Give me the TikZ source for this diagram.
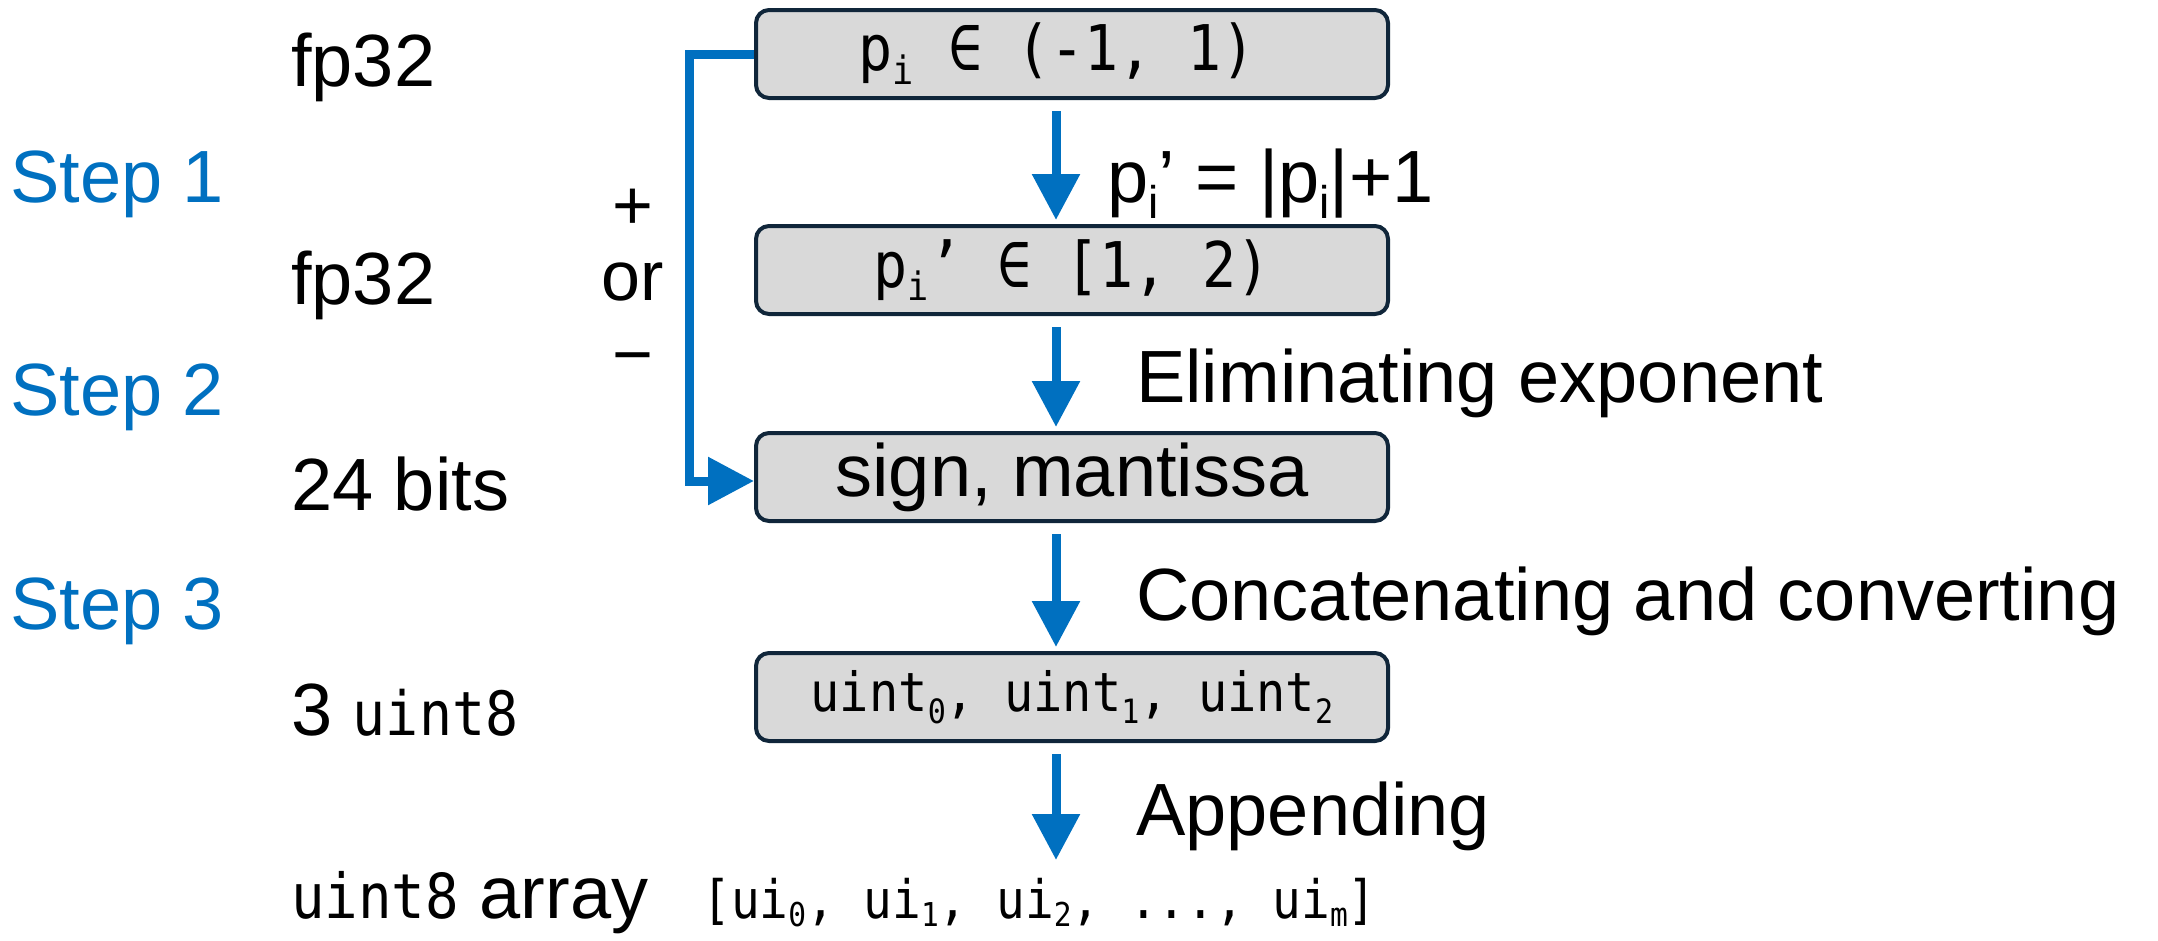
\documentclass[tikz,border=0pt]{standalone}
\usepackage{graphicx}
\usepackage{fontspec}
\setmainfont{Liberation Sans}
\newfontfamily\codefont[FakeStretch=0.9]{DejaVu Sans Mono}
\usetikzlibrary{arrows.meta}
\definecolor{stepblue}{HTML}{0070C0}
\definecolor{boxline}{HTML}{10263A}
\definecolor{boxfill}{HTML}{D9D9D9}
% lowered, smaller index for subscripts in text
\newcommand\lowidx[1]{\raisebox{-0.22em}{\scalebox{0.62}{#1}}}
\newcommand\lowidxs[1]{\raisebox{-0.16em}{\scalebox{0.62}{#1}}}

\begin{document}
\begin{tikzpicture}[x=1pt,y=-1pt,
  stage/.style={draw=boxline, line width=4pt, fill=boxfill, rounded corners=13pt,
    minimum width=632pt, minimum height=88pt, inner sep=0pt},
  flow/.style={draw=stepblue, line width=9pt, -{Triangle[length=46pt,width=46pt]}},
  down/.style={flow, shorten <=11pt, shorten >=4pt},
  lbl/.style={anchor=base west, inner sep=0pt, font=\fontsize{74}{80}\selectfont},
  steplbl/.style={lbl, text=stepblue},
  sgn/.style={anchor=base, inner sep=0pt, font=\fontsize{70}{76}\selectfont},
  codebig/.style={font=\codefont\fontsize{63}{68}\selectfont},
  codesmall/.style={font=\codefont\fontsize{54}{58}\selectfont},
]
\useasboundingbox (0,0) rectangle (2158,940);

% pipeline stages
\node[stage, codebig] (b1) at (1072,54) {\hspace*{-30pt}p\lowidx{i} ∈ (-1, 1)};
\node[stage, codebig] (b2) at (1072,270) {p\lowidx{i}’ ∈ [1, 2)};
\node[stage, font=\fontsize{74}{80}\selectfont] (b3) at (1072,477) {sign, mantissa};
\node[stage, codesmall] (b4) at (1072,697) {uint\lowidx{0}, uint\lowidx{1}, uint\lowidx{2}};

% step names
\node[steplbl] (s1) at (10,202) {Step 1};
\node[steplbl] (s2) at (10,415) {Step 2};
\node[steplbl] (s3) at (10,629) {Step 3};

% data types of each stage
\node[lbl] (t1) at (291,86) {fp32};
\node[lbl] (t2) at (291,304) {fp32};
\node[lbl] (t3) at (291,510) {24 bits};
\node[lbl] (t4) at (291,735) {3 {\codefont\fontsize{61}{66}\selectfont uint8}};
\node[lbl] (t5) at (291,918) {{\codefont\fontsize{62}{66}\selectfont uint8} array\hspace{54pt}{\codefont\fontsize{53}{58}\selectfont [ui\lowidxs{0}, ui\lowidxs{1}, ui\lowidxs{2}, ..., ui\lowidxs{m}]}};

% operations between stages
\node[lbl] (o1) at (1107,202) {p\lowidx{i}’ = |p\lowidx{i}|+1};
\node[lbl] (o2) at (1136,402) {Eliminating exponent};
\node[lbl] (o3) at (1136,620) {Concatenating and converting};
\node[lbl] (o4) at (1136,835) {Appending};

% sign bypass
\node[sgn] (plus) at (633,229) {+};
\node[sgn] (or) at (633,300) {or};
\node[sgn] (minus) at (633,378) {−};

% connectors
\coordinate (out) at (1056,860);
\draw[down] ([xshift=-16pt]b1.south) -- ([xshift=-16pt]b2.north);
\draw[down] ([xshift=-16pt]b2.south) -- ([xshift=-16pt]b3.north);
\draw[down] ([xshift=-16pt]b3.south) -- ([xshift=-16pt]b4.north);
\draw[flow, shorten <=11pt] ([xshift=-16pt]b4.south) -- (out);
\draw[flow] (b1.west) -- ++(-65,0) |- ([yshift=-4pt]b3.west);
\end{tikzpicture}
\end{document}
